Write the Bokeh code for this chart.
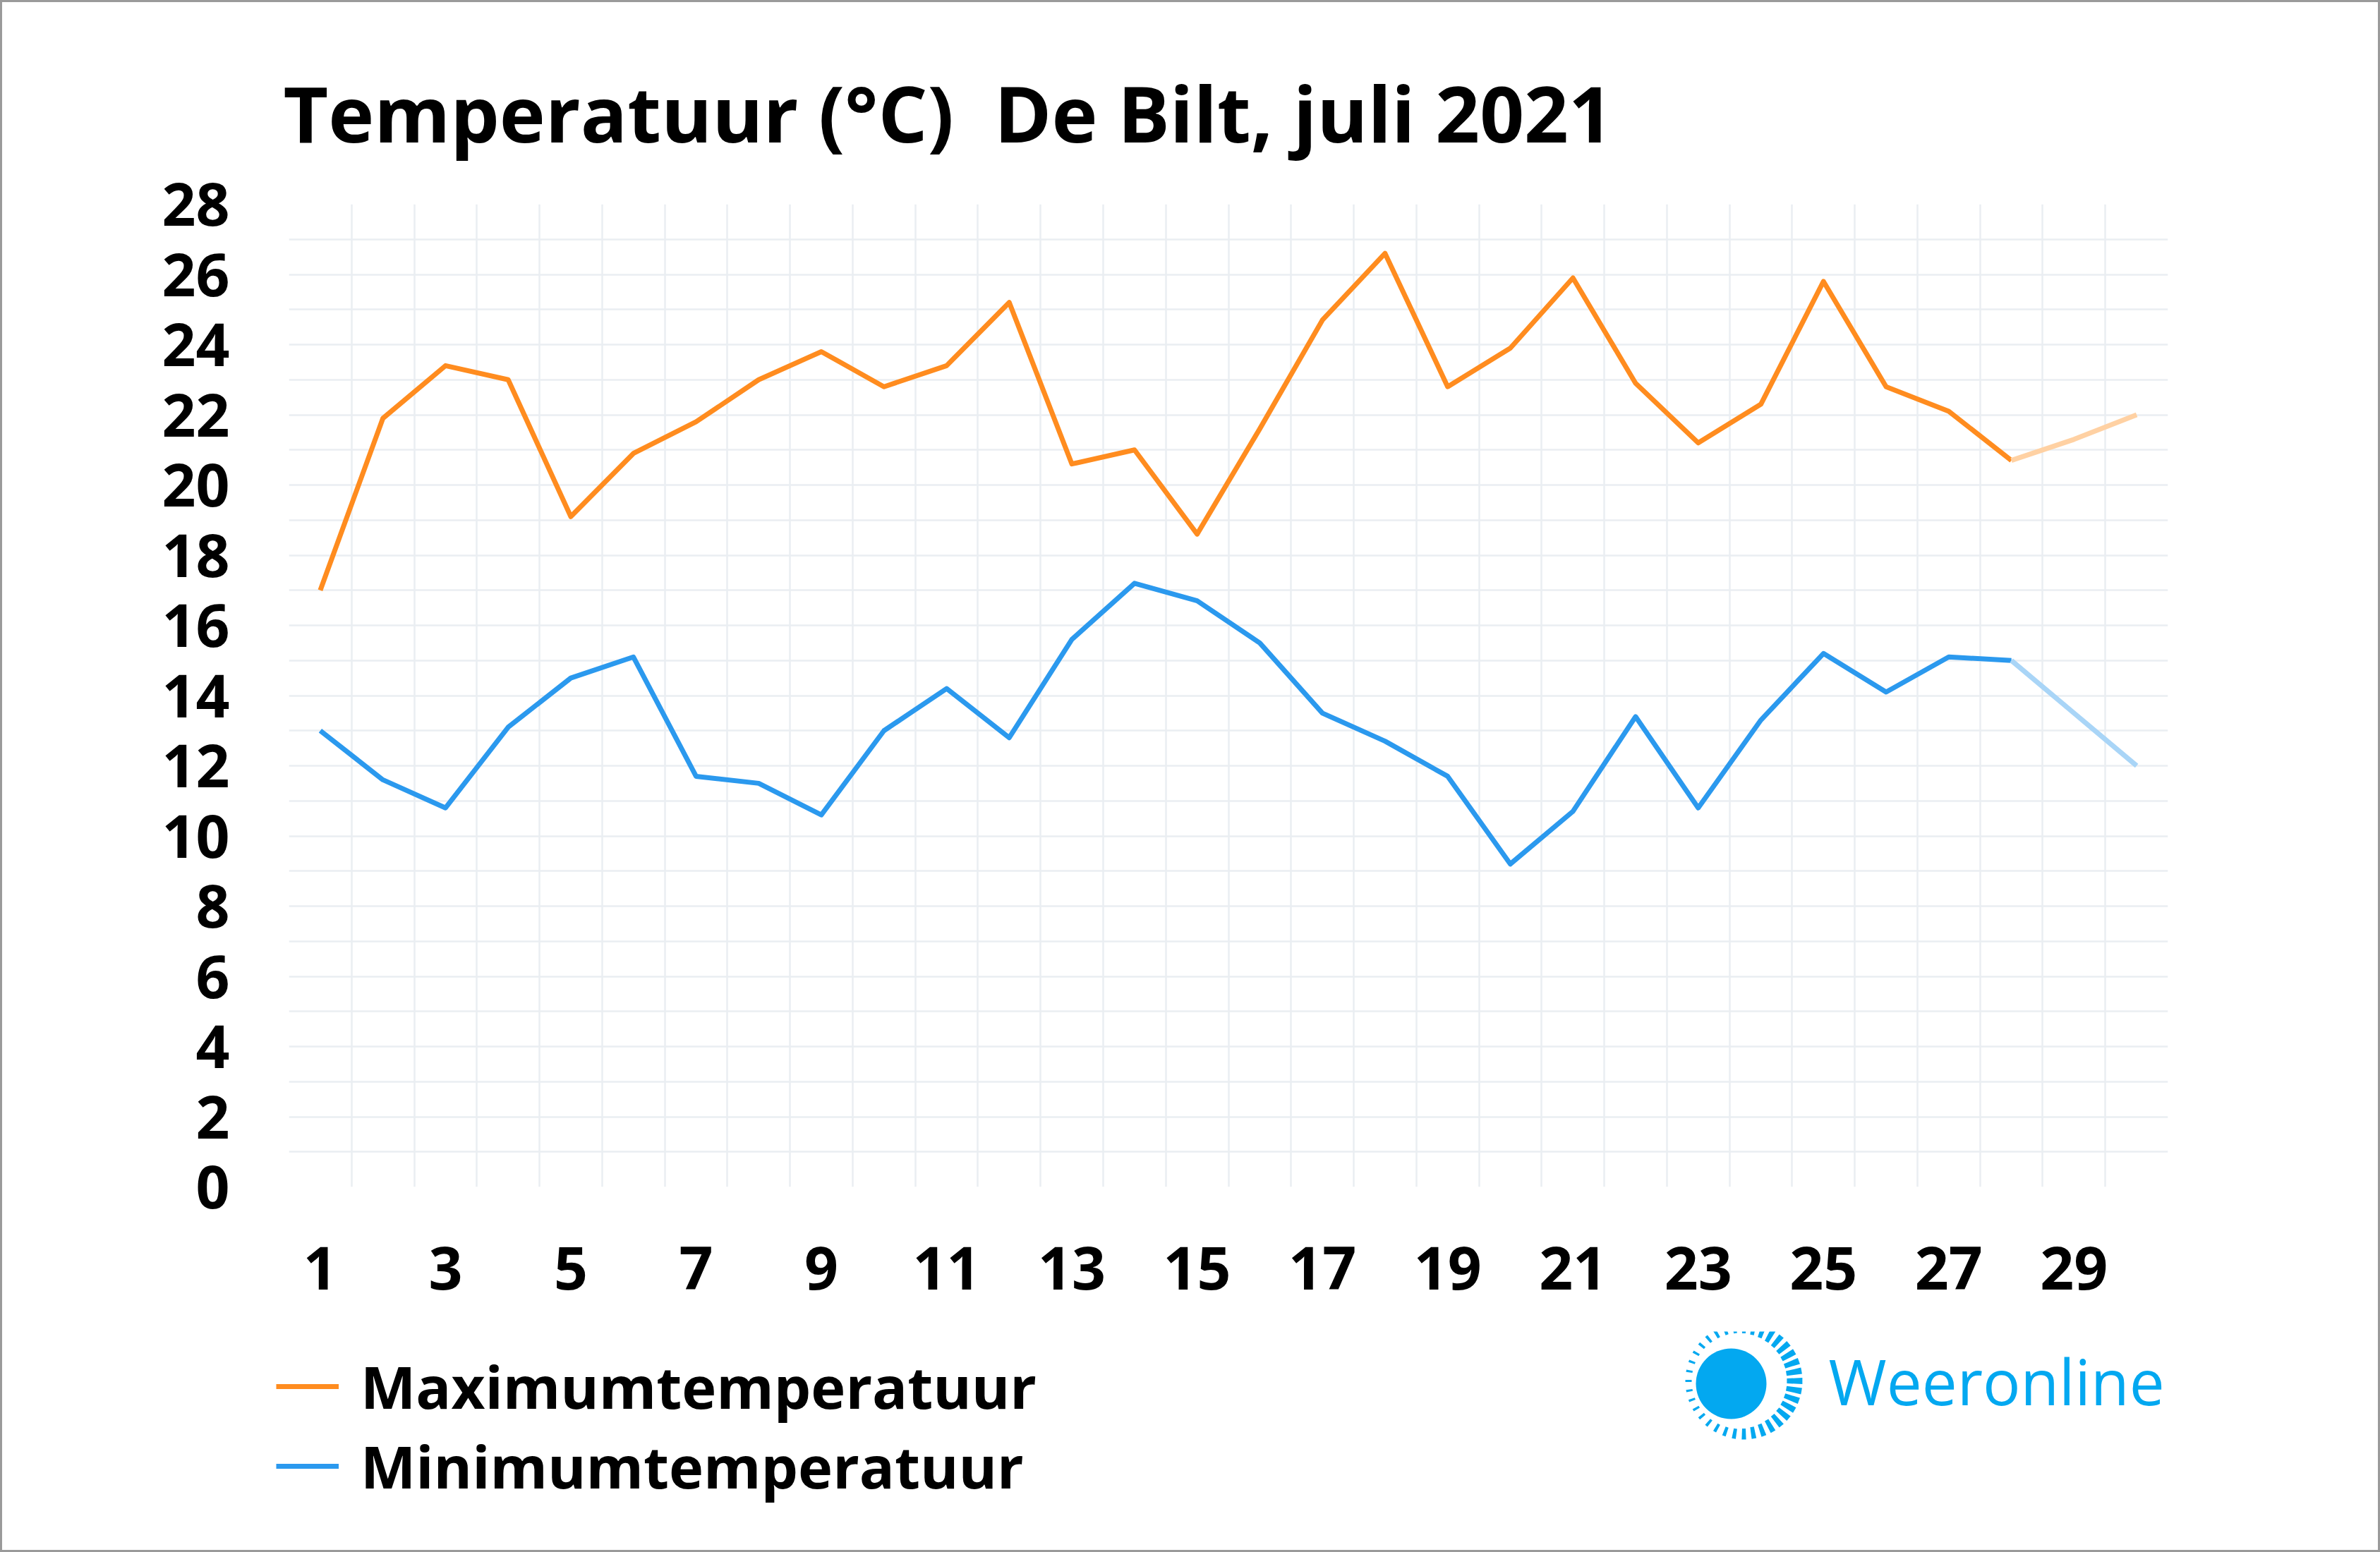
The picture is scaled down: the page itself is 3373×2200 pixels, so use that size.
import math
from bokeh.plotting import figure
from bokeh.layouts import column
from bokeh.models import (Range1d, FixedTicker, Legend, LegendItem, Label)
from bokeh.embed import file_html
from bokeh.resources import INLINE

# ---------------- data ----------------
days = list(range(1, 31))
tmax = [17.0, 21.9, 23.4, 23.0, 19.1, 20.9, 21.8, 23.0, 23.8, 22.8,
        23.4, 25.2, 20.6, 21.0, 18.6, 21.6, 24.7, 26.6, 22.8, 23.9,
        25.9, 22.9, 21.2, 22.3, 25.8, 22.8, 22.1, 20.7, 21.3, 22.0]
tmin = [13.0, 11.6, 10.8, 13.1, 14.5, 15.1, 11.7, 11.5, 10.6, 13.0,
        14.2, 12.8, 15.6, 17.2, 16.7, 15.5, 13.5, 12.7, 11.7, 9.2,
        10.7, 13.4, 10.8, 13.3, 15.2, 14.1, 15.1, 15.0, 13.5, 12.0]
last_observed = 28          # days after this are forecast
x_ticks = list(range(1, 30, 2))
y_ticks = list(range(0, 29, 2))
title_text = "Temperatuur (°C)\u00a0 De Bilt, juli 2021"
label_max = "Maximumtemperatuur"
label_min = "Minimumtemperatuur"
brand = "Weeronline"

ORANGE = "#ff8c1f"
ORANGE_LIGHT = "#ffd1a3"
BLUE = "#2b99ee"
BLUE_LIGHT = "#a9d5f7"
GRID = "#eaeef2"
LOGO = "#03a8f0"
FONT = "Open Sans"
LW = 7

B = 3                      # outer border width (css)
W = 3373 - 2 * B
H = 2200 - 2 * B
H1 = 1884                  # chart figure height
H2 = H - H1                # legend / logo strip
# plot frame in page pixels
FL, FR, FT, FB = 409, 3072, 289, 1682

p = figure(width=W, height=H1, output_backend="svg", toolbar_location=None,
           x_range=Range1d(0.5, 30.5), y_range=Range1d(0, 28),
           min_border_left=FL - B, min_border_right=W - (FR - B),
           min_border_top=FT - B, min_border_bottom=H1 - (FB - B))
p.background_fill_color = "white"
p.border_fill_color = "white"
p.outline_line_color = None

p.title.text = title_text
p.title.text_font = FONT
p.title.text_font_style = "bold"
p.title.text_font_size = "110px"
p.title.text_color = "black"
p.title.align = "left"
p.title.offset = -8
p.title.standoff = 112

for ax in (p.xaxis[0], p.yaxis[0]):
    ax.axis_line_color = None
    ax.major_tick_line_color = None
    ax.minor_tick_line_color = None
    ax.major_tick_out = 0
    ax.major_tick_in = 0
    ax.major_label_text_font = FONT
    ax.major_label_text_font_style = "bold"
    ax.major_label_text_font_size = "84px"
    ax.major_label_text_color = "black"
p.xaxis.ticker = FixedTicker(ticks=x_ticks)
p.yaxis.ticker = FixedTicker(ticks=y_ticks)
p.xaxis.major_label_standoff = 84
p.yaxis.major_label_standoff = 84

p.xgrid.ticker = FixedTicker(ticks=[d + 0.5 for d in range(0, 31)])
p.ygrid.ticker = FixedTicker(ticks=list(range(0, 29)))
for g in (p.xgrid[0], p.ygrid[0]):
    g.grid_line_color = GRID
    g.grid_line_width = 2.5

i = last_observed
p.line(days[:i], tmax[:i], line_color=ORANGE, line_width=LW, line_join="round")
p.line(days[i - 1:], tmax[i - 1:], line_color=ORANGE_LIGHT, line_width=LW,
       line_join="round")
p.line(days[:i], tmin[:i], line_color=BLUE, line_width=LW, line_join="round")
p.line(days[i - 1:], tmin[i - 1:], line_color=BLUE_LIGHT, line_width=LW,
       line_join="round")

# ---------------- legend + logo strip ----------------
# x in page pixels, y in pixels from the strip's top (y axis pointing down)
Y0 = B + H1                 # page y of the strip's top
free = "frame_align" in p.properties()
if free:
    XL, XR = B, B + W
    border_kw = dict(min_border=0)
else:
    XL, XR = FL, FR
    border_kw = dict(min_border_left=FL - B, min_border_right=W - (FR - B),
                     min_border_top=0, min_border_bottom=0)
q = figure(width=W, height=H2, output_backend="svg", toolbar_location=None,
           x_range=Range1d(XL, XR), y_range=Range1d(H2, 0),
           x_axis_type=None, y_axis_type=None, **border_kw)
if free:
    q.frame_align = False
    p.frame_align = False
q.background_fill_color = "white"
q.border_fill_color = "white"
q.outline_line_color = None
q.grid.visible = False

# legend proxies (kept outside the visible range)
k_max = q.line([XL - 60, XL - 20], [-40, -40], line_color=ORANGE, line_width=LW)
k_min = q.line([XL - 60, XL - 20], [-40, -40], line_color=BLUE, line_width=LW)
legend = Legend(items=[LegendItem(label=label_max, renderers=[k_max]),
                       LegendItem(label=label_min, renderers=[k_min])],
                location=(391 - XL, H2 - (2134 - Y0)), orientation="vertical",
                glyph_width=89, glyph_height=40, label_standoff=31,
                spacing=0, padding=0, margin=0,
                label_text_font=FONT, label_text_font_style="bold",
                label_text_font_size="83px", label_text_color="black",
                border_line_color=None, background_fill_alpha=0)
q.add_layout(legend, "center")

# logo: sun disc
q.ellipse(x=[2453], y=[1961 - Y0], width=100, height=100,
          fill_color=LOGO, line_color=None)
# logo: ring of dashes
rcx, rcy, R = 2471, 1957 - Y0, 83
n = 36
xs, ys = [], []
for k in range(n):
    th = 2 * math.pi * k / n
    f = (1 + math.cos(th)) / 2
    ln = 9 + 13 * f
    hw = (1.6 + 3.0 * f) / R
    px_, py_ = [], []
    for rr, dt in ((R - ln, -hw), (R, -hw), (R, hw), (R - ln, hw)):
        px_.append(rcx + rr * math.cos(th + dt))
        py_.append(rcy + rr * math.sin(th + dt))
    xs.append(px_)
    ys.append(py_)
q.patches(xs, ys, fill_color=LOGO, line_color=None)
q.add_layout(Label(x=2591, y=1957 - Y0, text=brand, text_font=FONT,
                   text_font_size="89px", text_color=LOGO,
                   text_baseline="alphabetic", text_align="left"))

layout = column(p, q, spacing=0,
                styles={"border": f"{B}px solid #9a9a9a"})

open("out.html", "w").write(file_html(layout, INLINE))
